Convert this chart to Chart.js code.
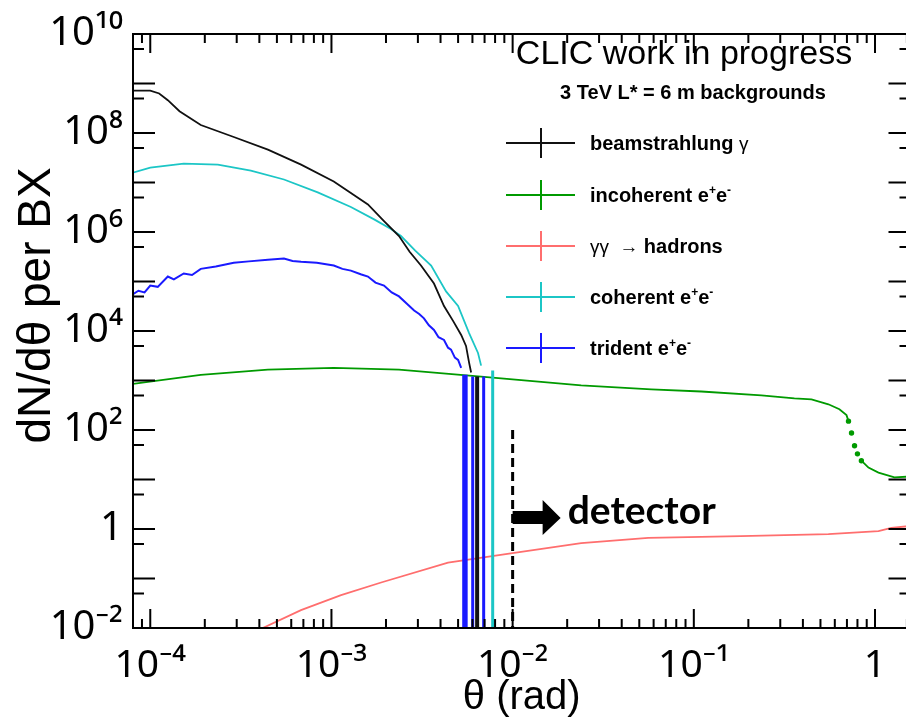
<!DOCTYPE html>
<html><head><meta charset="utf-8">
<script src="https://cdn.jsdelivr.net/npm/chart.js@4"></script>
<style>
html,body{margin:0;padding:0;overflow:hidden;background:#fff;width:906px;height:722px}
#wrap{position:absolute;left:0;top:0;width:906px;height:722px;overflow:hidden}
canvas{display:block}
</style></head>
<body><div id="wrap"><canvas id="c" width="912" height="722"></canvas></div>
<script>
// ---------------- data ----------------
const xTickValues = [1e-4, 1e-3, 1e-2, 1e-1, 1];
const xTickLabels = ['10\u207B\u2074', '10\u207B\u00B3', '10\u207B\u00B2', '10\u207B\u00B9', '1'];
const yTickValues = [1e-2, 1, 1e2, 1e4, 1e6, 1e8, 1e10];
const yTickLabels = ['10\u207B\u00B2', '1', '10\u00B2', '10\u2074', '10\u2076', '10\u2078', '10\u00B9\u2070'];
const xMinorTicks = [9e-5, 2e-4,3e-4,4e-4,5e-4,6e-4,7e-4,8e-4,9e-4, 2e-3,3e-3,4e-3,5e-3,6e-3,7e-3,8e-3,9e-3,
  2e-2,3e-2,4e-2,5e-2,6e-2,7e-2,8e-2,9e-2, 0.2,0.3,0.4,0.5,0.6,0.7,0.8,0.9, 1.5];
const yMajorTicks = [1e-2,1e-1,1,1e1,1e2,1e3,1e4,1e5,1e6,1e7,1e8,1e9,1e10];
const yMinorTicks = [5e-2,5e-1,5,5e1,5e2,5e3,5e4,5e5,5e6,5e7,5e8,5e9];

const beamX = [8.0e-5,1.0e-4,1.12e-4,1.25e-4,1.45e-4,1.9e-4,2.89e-4,4.46e-4,6.8e-4,1.03e-3,1.59e-3,1.95e-3,2.36e-3,2.7e-3,3.12e-3,3.68e-3,4.18e-3,4.69e-3,5.2e-3,5.53e-3,5.75e-3,5.9e-3];
const beamY = [7.2e8,7.2e8,6.3e8,4.6e8,2.75e8,1.45e8,8.3e7,4.6e7,2.3e7,1.05e7,3.6e6,1.66e6,8.3e5,4.0e5,2.1e5,9.1e4,3.2e4,1.6e4,8.3e3,5.0e3,2.3e3,1.45e3];

const incohX = [8.0e-5,1.9e-4,4.46e-4,1.03e-3,2.36e-3,6.7e-3,0.0239,0.0582,0.11,0.236,0.359,0.446,0.553,0.636,0.696,0.714,0.742,0.771,0.80,0.841,0.92,1.045,1.28,1.57];
const incohY = [850,1300,1660,1800,1660,1200,794,660,600,500,437,417,331,263,200,151,87,48,33,24,17.4,13.8,11,11.5];

const hadX = [3.5e-4,4.18e-4,6.79e-4,1.13e-3,1.88e-3,4.4e-3,0.0102,0.0239,0.056,0.182,0.553,1.045,1.23,1.57];
const hadY = [0.0065,0.01,0.023,0.046,0.083,0.21,0.33,0.52,0.66,0.72,0.79,0.91,1.05,1.15];

const cohX = [8.0e-5,1.0e-4,1.53e-4,2.36e-4,3.59e-4,5.47e-4,8.4e-4,1.28e-3,1.72e-3,2.13e-3,2.42e-3,2.9e-3,3.55e-3,4.29e-3,5.0e-3,5.75e-3,6.44e-3,6.7e-3];
const cohY = [1.58e7,2.0e7,2.4e7,2.3e7,1.74e7,1.15e7,6.3e6,3.2e6,1.8e6,1.15e6,8.3e5,4.2e5,2.1e5,6.3e4,3.2e4,9.1e3,3.6e3,2.0e3];

const triX = [8.0e-5,8.6e-5,9.3e-5,1.0e-4,1.1e-4,1.25e-4,1.35e-4,1.53e-4,1.7e-4,1.9e-4,2.3e-4,2.89e-4,3.5e-4,4.46e-4,5.47e-4,6.1e-4,6.8e-4,8.3e-4,1.03e-3,1.15e-3,1.28e-3,1.45e-3,1.59e-3,1.75e-3,1.95e-3,2.15e-3,2.36e-3,2.6e-3,2.86e-3,3.05e-3,3.24e-3,3.45e-3,3.68e-3,3.9e-3,4.18e-3,4.4e-3,4.57e-3,4.8e-3,5.0e-3,5.2e-3];
const triY = [5.5e4,6.5e4,6.0e4,8.3e4,7.8e4,1.26e5,1.1e5,1.45e5,1.35e5,1.8e5,2.0e5,2.4e5,2.55e5,2.75e5,2.9e5,2.6e5,2.5e5,2.4e5,2.1e5,1.8e5,1.66e5,1.4e5,1.26e5,9.5e4,8.3e4,6.0e4,5.0e4,3.6e4,2.6e4,2.2e4,1.8e4,1.3e4,1.05e4,7.5e3,6.6e3,4.6e3,4.2e3,2.9e3,2.6e3,1.8e3];

// empty-bin error bars falling to the bottom of the frame
const triSpikeX = [5.37e-3,5.54e-3,6.02e-3,6.92e-3];
const triSpikeTop = [1.3e3,1.3e3,1.2e3,1.2e3];
const beamSpikeX = [6.37e-3];
const beamSpikeTop = [1.2e3];
const cohSpikeX = [7.76e-3];
const cohSpikeTop = [1.6e3];

const detectorTheta = 0.01;      // rad
const detectorLineTop = 100;     // dN/dθ
const detectorArrowY = 1.66;

const seriesNames = ['beamstrahlung', 'incoherent e', '\u03B3\u03B3', 'coherent e', 'trident e'];

// ---------------- helpers ----------------
const FONT = "'Liberation Sans', Arial, Helvetica, sans-serif";
const TICKFONT = "'Noto Sans', 'DejaVu Sans', sans-serif";
const xy = (xs, ys) => xs.map((x, i) => ({x, y: ys[i]}));
function spikes(xs, tops) {
  const d = [];
  xs.forEach((x, i) => { d.push({x, y: tops[i]}); d.push({x, y: 1e-3}); d.push({x, y: null}); });
  return d;
}
const COL = {beam:'#111111', incoh:'#009a00', had:'#ff6e6e', coh:'#1cc6c6', tri:'#1a1aff'};

function lineDs(label, data, color, order, extra) {
  return Object.assign({label, data, borderColor: color, backgroundColor: color, borderWidth: 1.8,
    pointRadius: 0, showLine: true, fill: false, tension: 0, spanGaps: false, order}, extra || {});
}

// ---------------- decoration plugin (frame, inner ticks, texts) ----------------
function richText(ctx, x, y, segs) {
  let cx = x;
  segs.forEach(s => {
    ctx.font = s.f;
    ctx.fillText(s.t, cx, y + (s.dy || 0));
    cx += ctx.measureText(s.t).width + (s.gap || 0);
  });
}

const decor = {
  id: 'decor',
  afterDatasetsDraw(chart) {
    const {ctx, chartArea: a, scales: {x, y}} = chart;
    ctx.save();
    ctx.strokeStyle = '#000';
    ctx.fillStyle = '#000';
    ctx.lineWidth = 2;
    ctx.beginPath();
    ctx.rect(a.left, a.top, a.right - a.left, a.bottom - a.top);
    const tx = (vals, len) => vals.forEach(v => {
      const p = x.getPixelForValue(v);
      if (p < a.left || p > a.right) return;
      ctx.moveTo(p, a.bottom); ctx.lineTo(p, a.bottom - len);
      ctx.moveTo(p, a.top); ctx.lineTo(p, a.top + len);
    });
    const ty = (vals, len) => vals.forEach(v => {
      const p = y.getPixelForValue(v);
      ctx.moveTo(a.left, p); ctx.lineTo(a.left + len, p);
      ctx.moveTo(a.right, p); ctx.lineTo(a.right - len, p);
    });
    tx(xTickValues, 19); tx(xMinorTicks, 9);
    ty(yMajorTicks, 22); ty(yMinorTicks, 11);
    ctx.stroke();

    // detector dashed line
    const dx = x.getPixelForValue(detectorTheta);
    ctx.beginPath();
    ctx.setLineDash([9, 5]);
    ctx.lineWidth = 3;
    ctx.moveTo(dx, y.getPixelForValue(detectorLineTop));
    ctx.lineTo(dx, a.bottom);
    ctx.stroke();
    ctx.setLineDash([]);

    // arrow
    const ay = y.getPixelForValue(detectorArrowY);
    ctx.beginPath();
    ctx.moveTo(dx, ay - 7);
    ctx.lineTo(dx + 30, ay - 7);
    ctx.lineTo(dx + 30, ay - 18);
    ctx.lineTo(dx + 48, ay);
    ctx.lineTo(dx + 30, ay + 17);
    ctx.lineTo(dx + 30, ay + 6);
    ctx.lineTo(dx, ay + 6);
    ctx.closePath();
    ctx.fill();
    ctx.font = "bold 39px Lato, 'Open Sans', sans-serif";
    ctx.textBaseline = 'alphabetic';
    ctx.textAlign = 'left';
    ctx.fillText('detector', dx + 55, ay + 6);

    // titles
    ctx.textAlign = 'center';
    ctx.font = '34px ' + FONT;
    ctx.fillText('CLIC work in progress', 684, 64);
    ctx.font = 'bold 20px ' + FONT;
    ctx.fillText('3 TeV L* = 6 m backgrounds', 693, 99);

    // legend
    ctx.textAlign = 'left';
    const rows = [143, 195, 246, 297, 348];
    const cols = [COL.beam, COL.incoh, COL.had, COL.coh, COL.tri];
    const B = 'bold 20px ' + FONT, R = '19px ' + FONT, S = 'bold 12px ' + FONT;
    const texts = [
      [{t: seriesNames[0] + ' ', f: B}, {t: '\u03B3', f: R}],
      [{t: seriesNames[1], f: B}, {t: '+', f: S, dy: -8}, {t: 'e', f: B}, {t: '-', f: S, dy: -8}],
      [{t: seriesNames[2] + '  \u2192 ', f: R}, {t: 'hadrons', f: B}],
      [{t: seriesNames[3], f: B}, {t: '+', f: S, dy: -8}, {t: 'e', f: B}, {t: '-', f: S, dy: -8}],
      [{t: seriesNames[4], f: B}, {t: '+', f: S, dy: -8}, {t: 'e', f: B}, {t: '-', f: S, dy: -8}]
    ];
    rows.forEach((ry, i) => {
      ctx.strokeStyle = cols[i];
      ctx.lineWidth = 2;
      ctx.beginPath();
      ctx.moveTo(506, ry); ctx.lineTo(575, ry);
      ctx.moveTo(541, ry - 15); ctx.lineTo(541, ry + 15);
      ctx.stroke();
      ctx.fillStyle = '#000';
      richText(ctx, 590, ry + 7, texts[i]);
    });
    ctx.restore();
  }
};

// ---------------- chart ----------------
const datasets = [
  lineDs('γγ → hadrons', xy(hadX, hadY), COL.had, 5),
  lineDs('incoherent e+e-', xy(incohX, incohY), COL.incoh, 4, {
    pointRadius: c => (c.raw && c.raw.x > 0.7 && c.raw.x < 0.9) ? 1.8 : 0,
    segment: {borderColor: c => (c.p0.parsed.x >= 0.7 && c.p1.parsed.x <= 0.85) ? 'rgba(0,0,0,0)' : undefined}
  }),
  lineDs('trident e+e-', xy(triX, triY), COL.tri, 3, {borderWidth: 2}),
  lineDs('trident spikes', spikes(triSpikeX, triSpikeTop), COL.tri, 3, {borderWidth: 3}),
  lineDs('coherent e+e-', xy(cohX, cohY), COL.coh, 2),
  lineDs('coherent spikes', spikes(cohSpikeX, cohSpikeTop), COL.coh, 2, {borderWidth: 3}),
  lineDs('beamstrahlung γ', xy(beamX, beamY), COL.beam, 1),
  lineDs('beam spikes', spikes(beamSpikeX, beamSpikeTop), COL.beam, 1, {borderWidth: 4})
];

new Chart(document.getElementById('c'), {
  type: 'scatter',
  data: {datasets},
  options: {
    responsive: false,
    animation: false,
    devicePixelRatio: 1,
    layout: {padding: {top: 28, right: 1.5, bottom: 0, left: 0}},
    plugins: {legend: {display: false}, tooltip: {enabled: false}},
    scales: {
      x: {
        type: 'logarithmic', position: 'bottom', min: 8.03e-5, max: 1.57,
        afterBuildTicks: s => { s.ticks = xTickValues.map(v => ({value: v})); },
        afterFit: s => { s.height = 94; },
        ticks: {callback: (v, i) => xTickLabels[i], autoSkip: false, maxRotation: 0,
                font: {family: TICKFONT, size: 39}, color: '#000', padding: 14},
        grid: {display: false, drawTicks: false}, border: {display: false},
        title: {display: true, text: 'θ (rad)', color: '#000', font: {family: FONT, size: 40}, padding: {top: 0, bottom: 0}}
      },
      y: {
        type: 'logarithmic', position: 'left', min: 1e-2, max: 1e10,
        afterBuildTicks: s => { s.ticks = yTickValues.map(v => ({value: v})); },
        afterFit: s => { s.width = 133; },
        ticks: {callback: (v, i) => yTickLabels[i], autoSkip: false,
                font: {family: TICKFONT, size: 40}, color: '#000', padding: 10},
        grid: {display: false, drawTicks: false}, border: {display: false},
        title: {display: true, text: '\u00A0\u00A0\u00A0\u00A0dN/d\u03B8 per BX', color: '#000', font: {family: FONT, size: 46}, padding: {top: 10, bottom: 0}}
      }
    }
  },
  plugins: [decor]
});
</script>
</body></html>
